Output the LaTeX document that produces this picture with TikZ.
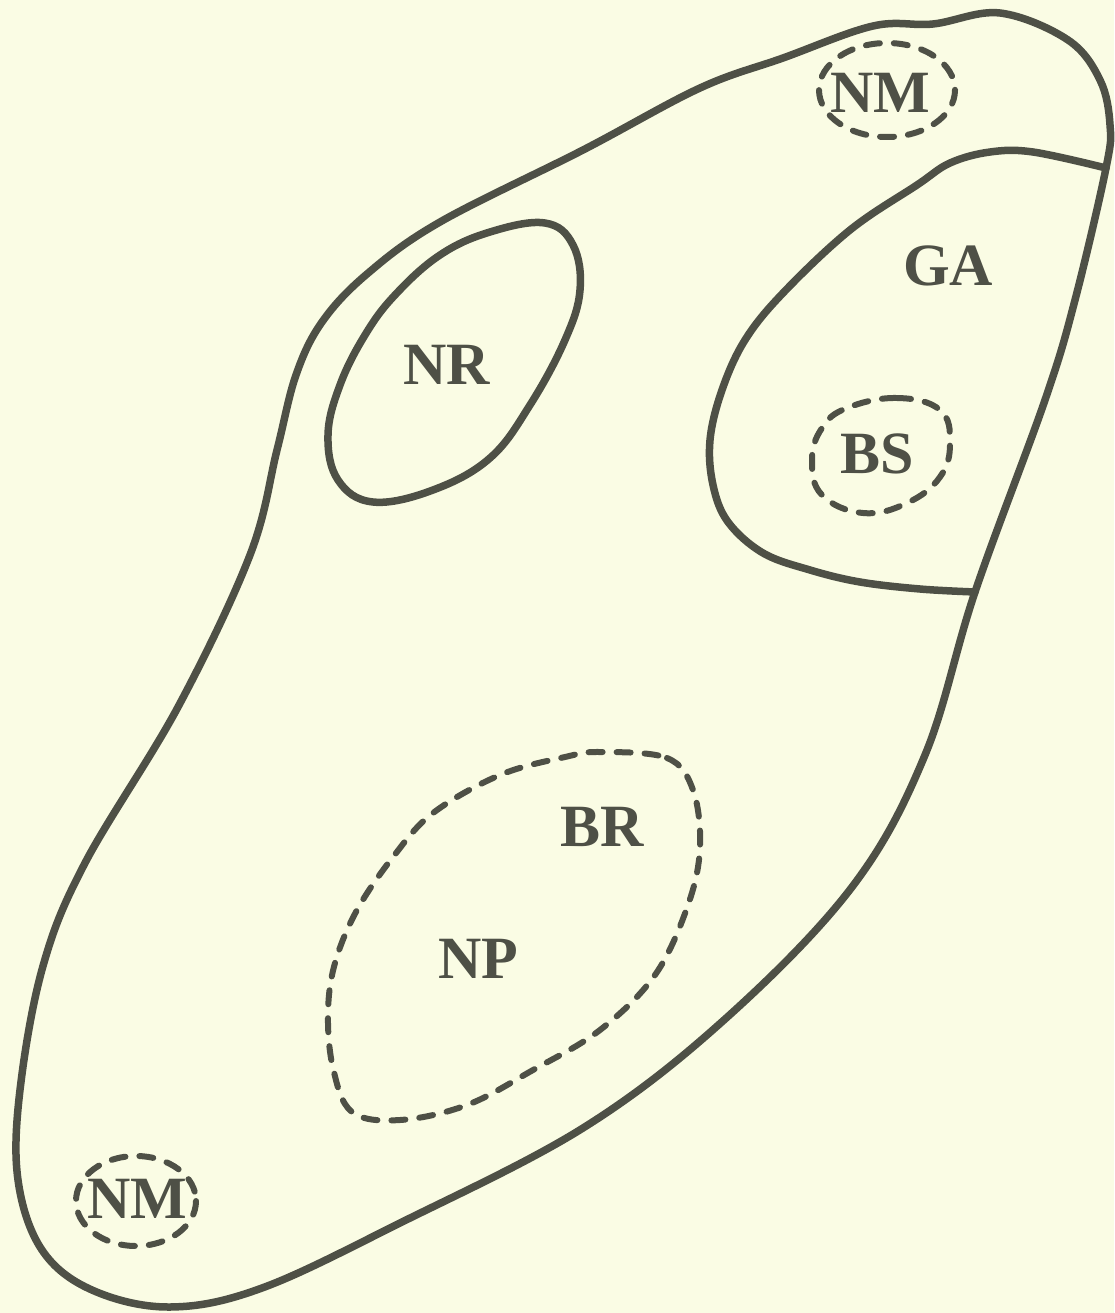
\documentclass[tikz,border=0pt]{standalone}
\usepackage{fontspec}
\setmainfont{Liberation Serif}
\definecolor{paper}{RGB}{250,252,228}
\definecolor{ink}{RGB}{78,80,70}
\tikzset{
  solidline/.style={draw=ink, line width=7.5pt, line join=round, line cap=round},
  dashline/.style={draw=ink, line width=6pt, line cap=round, dash pattern=on 14pt off 14pt},
  lab/.style={text=ink, inner sep=0pt, font=\fontsize{60}{60}\selectfont\bfseries},
}
\begin{document}
\begin{tikzpicture}[x=1pt,y=-1pt]
\useasboundingbox (0,0) rectangle (1114,1313);
\fill[paper] (0,0) rectangle (1114,1313);
% outer outline
\draw[solidline] plot[smooth cycle, tension=0.6] coordinates {
 (1000,13) (1068,40) (1100,80) (1110,125) (1106,168) (1075,300) (1045,400)
 (975,592) (925,755) (852,887) (724,1020) (583,1128) (400,1223) (262,1288)
 (170,1307) (92,1290) (42,1250) (18,1180) (20,1090) (43,966) (85,863) (178,707)
 (250,555) (277,450) (296,375) (322,322) (367,274) (440,222) (583,150) (700,88)
 (783,58) (873,26) (933,24)
};
% GA boundary
\draw[solidline] plot[smooth, tension=0.6] coordinates {
 (1106,168) (1033,152) (990,152) (950,163) (917,185) (850,230) (783,293) (745,340)
 (722,390) (710,440) (713,485) (728,522) (763,553) (810,570) (860,582) (920,589) (975,592)
};
% NR
\draw[solidline] plot[smooth cycle, tension=0.65] coordinates {
 (545,223) (573,245) (580,290) (565,340) (530,405) (490,458) (433,490) (373,502)
 (338,480) (328,435) (340,385) (365,335) (395,295) (440,255) (490,232)
};
% BR / NP dashed
\draw[dashline] plot[smooth cycle, tension=0.6] coordinates {
 (600,752) (667,758) (693,790) (700,847) (688,905) (655,975) (600,1030) (533,1070)
 (467,1105) (400,1120) (352,1112) (333,1068) (328,1013) (335,963) (357,910)
 (393,857) (433,813) (500,775) (565,757)
};
% BS dashed
\draw[dashline] plot[smooth cycle, tension=0.7] coordinates {
 (847,408) (897,398) (940,410) (950,443) (940,477) (907,503) (863,513) (822,495)
 (812,460) (822,428)
};
% NM top dashed
\draw[dashline] (887,90) ellipse [x radius=68, y radius=47];
% NM bottom dashed
\draw[dashline] (136,1201) ellipse [x radius=60, y radius=45];
% labels
\node[lab] (nmtop) at (880,93) {NM};
\node[lab] (ga) at (948,266) {GA};
\node[lab] (nr) at (447,365) {NR};
\node[lab] (bs) at (877,454) {BS};
\node[lab] (br) at (602,827) {BR};
\node[lab] (np) at (478,959) {NP};
\node[lab] (nmbot) at (137,1199) {NM};
\end{tikzpicture}
\end{document}
